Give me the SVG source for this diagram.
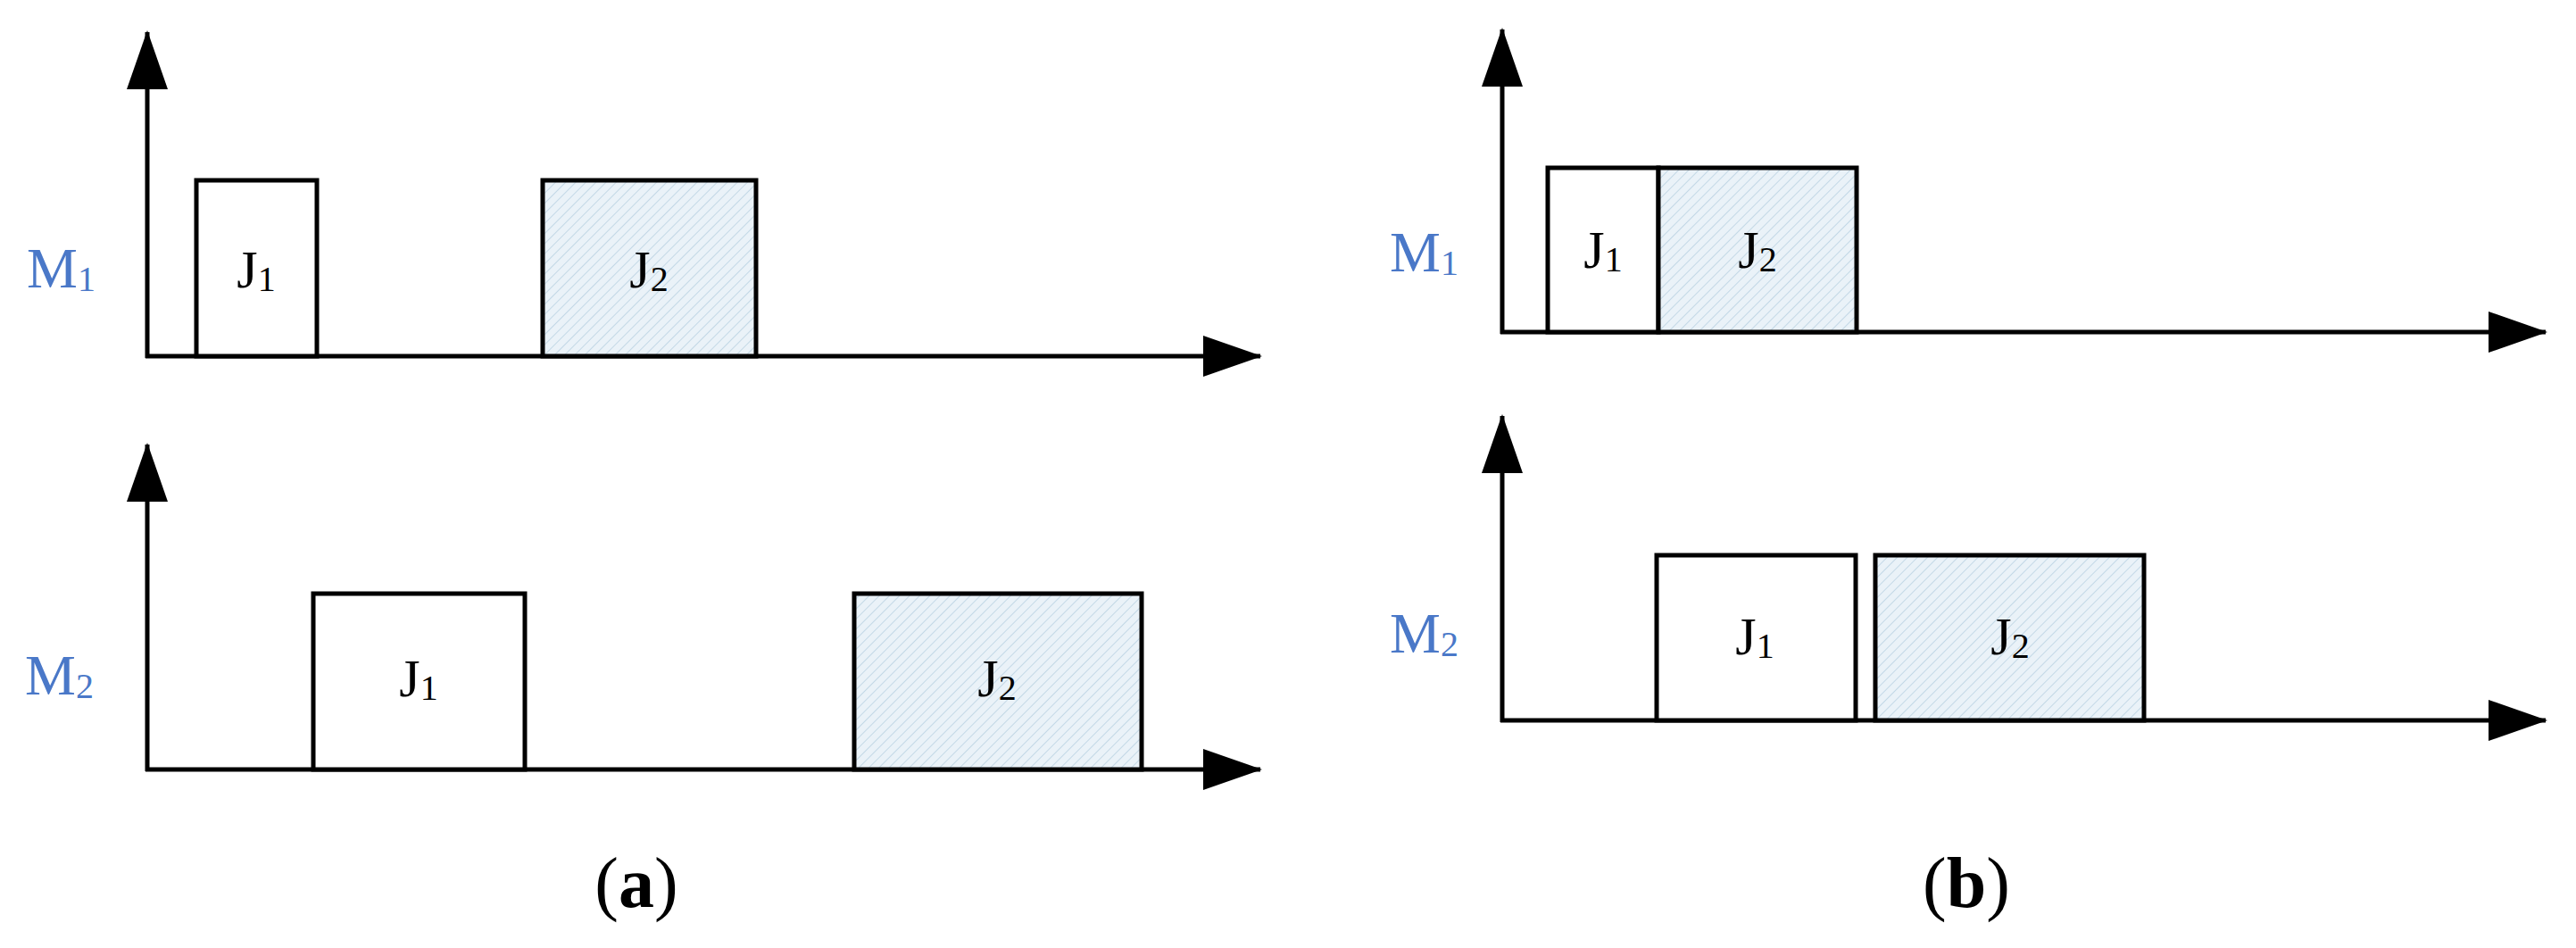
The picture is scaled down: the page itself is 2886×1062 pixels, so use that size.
<svg xmlns="http://www.w3.org/2000/svg" width="2886" height="1062" viewBox="0 0 2886 1062">
<style>
.ax{stroke:#000;stroke-width:5;fill:none}
.box{stroke:#000;stroke-width:5;fill:#fff}
.hb{stroke:#000;stroke-width:5;fill:url(#hatch)}
.m{font-family:"Liberation Serif",serif;font-size:64px;fill:#4a78c8}
.j{font-family:"Liberation Serif",serif;font-size:60px;fill:#000;text-anchor:middle}
.cap{font-family:"Liberation Serif",serif;font-size:80px;fill:#000;text-anchor:middle}
.s{font-size:40px}
</style>
<defs>
<pattern id="hatch" patternUnits="userSpaceOnUse" width="8" height="8" patternTransform="rotate(45)">
<rect width="8" height="8" fill="#eaf2f8"/>
<line x1="0" y1="0" x2="0" y2="8" stroke="#c3d8e6" stroke-width="2"/>
</pattern>
<marker id="ah" markerUnits="userSpaceOnUse" markerWidth="66" markerHeight="46" refX="64" refY="23" orient="auto">
<path d="M0,0 L66,23 L0,46 Z" fill="#000"/>
</marker>
</defs>
<g id="connectors">
<line class="ax" x1="165" y1="401" x2="165" y2="36" marker-end="url(#ah)"/>
<line class="ax" x1="163" y1="399" x2="1412" y2="399" marker-end="url(#ah)"/>
<line class="ax" x1="165" y1="864" x2="165" y2="498" marker-end="url(#ah)"/>
<line class="ax" x1="163" y1="862" x2="1412" y2="862" marker-end="url(#ah)"/>
<line class="ax" x1="1683" y1="374" x2="1683" y2="33" marker-end="url(#ah)"/>
<line class="ax" x1="1681" y1="372" x2="2852" y2="372" marker-end="url(#ah)"/>
<line class="ax" x1="1683" y1="809" x2="1683" y2="466" marker-end="url(#ah)"/>
<line class="ax" x1="1681" y1="807" x2="2852" y2="807" marker-end="url(#ah)"/>
</g>
<g id="a-m1-label"><text class="m" x="30" y="322">M<tspan class="s" dy="4">1</tspan></text></g>
<g id="a-m1-j1"><rect class="box" x="220" y="202" width="135" height="197"/><text class="j" x="287" y="322">J<tspan class="s" dy="4">1</tspan></text></g>
<g id="a-m1-j2"><rect class="hb" x="608" y="202" width="239" height="197"/><text class="j" x="727" y="322">J<tspan class="s" dy="4">2</tspan></text></g>
<g id="a-m2-label"><text class="m" x="28" y="778">M<tspan class="s" dy="4">2</tspan></text></g>
<g id="a-m2-j1"><rect class="box" x="351" y="665" width="237" height="197"/><text class="j" x="469" y="780">J<tspan class="s" dy="4">1</tspan></text></g>
<g id="a-m2-j2"><rect class="hb" x="957" y="665" width="322" height="197"/><text class="j" x="1117" y="780">J<tspan class="s" dy="4">2</tspan></text></g>
<g id="b-m1-label"><text class="m" x="1557" y="304">M<tspan class="s" dy="4">1</tspan></text></g>
<g id="b-m1-j1"><rect class="box" x="1734" y="188" width="124" height="184"/><text class="j" x="1796" y="300">J<tspan class="s" dy="4">1</tspan></text></g>
<g id="b-m1-j2"><rect class="hb" x="1858" y="188" width="222" height="184"/><text class="j" x="1969" y="300">J<tspan class="s" dy="4">2</tspan></text></g>
<g id="b-m2-label"><text class="m" x="1557" y="731">M<tspan class="s" dy="4">2</tspan></text></g>
<g id="b-m2-j1"><rect class="box" x="1856" y="622" width="223" height="185"/><text class="j" x="1966" y="733">J<tspan class="s" dy="4">1</tspan></text></g>
<g id="b-m2-j2"><rect class="hb" x="2101" y="622" width="301" height="185"/><text class="j" x="2252" y="733">J<tspan class="s" dy="4">2</tspan></text></g>
<g id="cap-a"><text class="cap" x="713" y="1016">(<tspan font-weight="bold">a</tspan>)</text></g>
<g id="cap-b"><text class="cap" x="2203" y="1016">(<tspan font-weight="bold">b</tspan>)</text></g>
</svg>
